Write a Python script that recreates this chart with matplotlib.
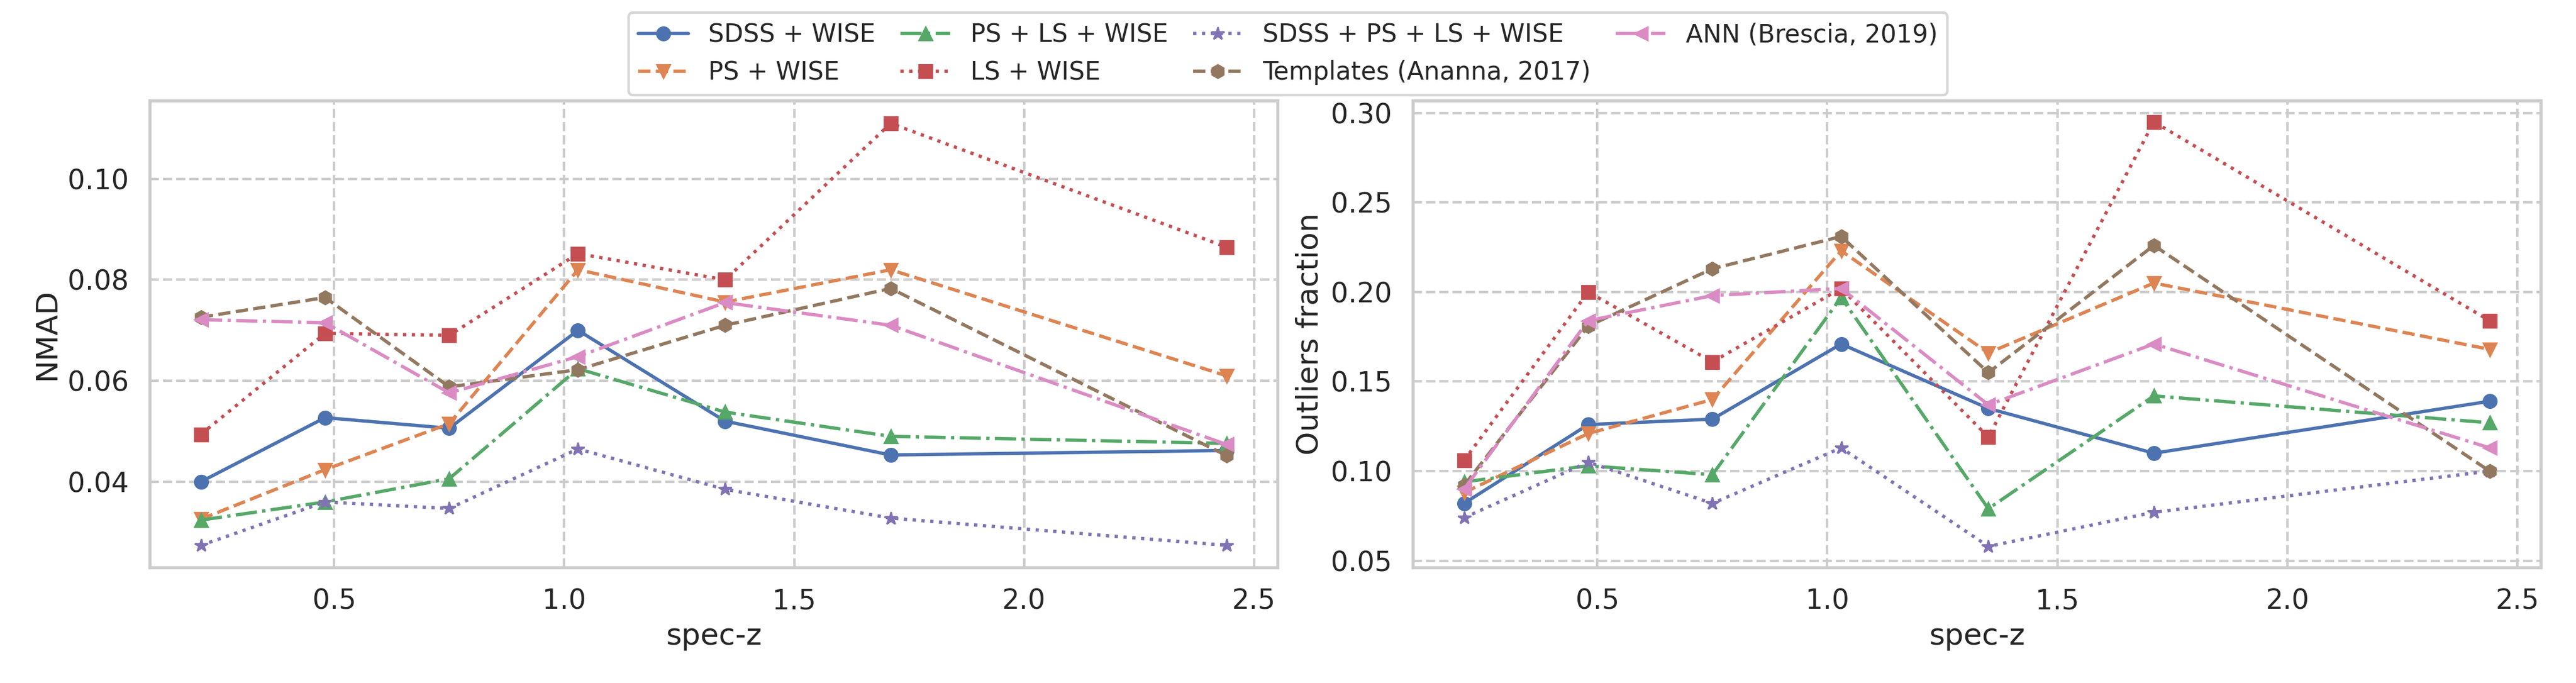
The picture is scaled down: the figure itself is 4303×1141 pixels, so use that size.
import matplotlib
matplotlib.use("Agg")
import matplotlib.pyplot as plt
import seaborn as sns

sns.set_theme(style="whitegrid", context="talk", rc={"grid.linestyle": "--"})

z = [0.21, 0.48, 0.75, 1.03, 1.35, 1.71, 2.44]
labels = ["SDSS + WISE", "PS + WISE", "PS + LS + WISE", "LS + WISE",
          "SDSS + PS + LS + WISE", "Templates (Ananna, 2017)", "ANN (Brescia, 2019)"]
nmad_sdss = [0.040, 0.0527, 0.0506, 0.070, 0.052, 0.0453, 0.0462]
nmad_ps = [0.0326, 0.0424, 0.0515, 0.082, 0.0756, 0.082, 0.061]
nmad_psls = [0.0324, 0.036, 0.0406, 0.0624, 0.0538, 0.049, 0.0476]
nmad_ls = [0.0494, 0.0694, 0.069, 0.0852, 0.080, 0.111, 0.0865]
nmad_all = [0.0274, 0.036, 0.0347, 0.0465, 0.0385, 0.0328, 0.0274]
nmad_tmpl = [0.0726, 0.0765, 0.0588, 0.0622, 0.071, 0.0783, 0.0452]
nmad_ann = [0.0721, 0.0715, 0.0576, 0.0648, 0.0755, 0.0710, 0.0474]
out_sdss = [0.082, 0.126, 0.129, 0.171, 0.135, 0.110, 0.139]
out_ps = [0.088, 0.121, 0.140, 0.223, 0.166, 0.205, 0.168]
out_psls = [0.094, 0.103, 0.098, 0.197, 0.079, 0.142, 0.127]
out_ls = [0.106, 0.200, 0.161, 0.202, 0.119, 0.295, 0.184]
out_all = [0.074, 0.105, 0.082, 0.113, 0.058, 0.077, 0.100]
out_tmpl = [0.092, 0.181, 0.213, 0.231, 0.155, 0.226, 0.100]
out_ann = [0.090, 0.184, 0.198, 0.202, 0.137, 0.171, 0.113]

styles = [("o", "-"), ("v", "--"), ("^", "-."), ("s", ":"), ("*", ":"), ("h", "--"), ("<", "-.")]
colors = sns.color_palette("deep")

fig, axes = plt.subplots(1, 2, figsize=(21.515, 5.705), dpi=200)
for ax, series, ylab in [(axes[0], [nmad_sdss, nmad_ps, nmad_psls, nmad_ls, nmad_all, nmad_tmpl, nmad_ann], "NMAD"),
                         (axes[1], [out_sdss, out_ps, out_psls, out_ls, out_all, out_tmpl, out_ann], "Outliers fraction")]:
    for i, (vals, lab) in enumerate(zip(series, labels)):
        m, ls = styles[i]
        ax.plot(z, vals, marker=m, linestyle=ls, color=colors[i], label=lab, markersize=8, linewidth=2)
    ax.set_xlabel("spec-z")
    ax.set_ylabel(ylab)
    ax.set_xticks([0.5, 1.0, 1.5, 2.0, 2.5])
axes[0].set_ylim(0.023, 0.1155)
axes[0].set_yticks([0.04, 0.06, 0.08, 0.10])
axes[1].set_yticks([0.05, 0.10, 0.15, 0.20, 0.25, 0.30])
h, l = axes[0].get_legend_handles_labels()
fig.legend(h, l, loc="upper center", ncol=4, fontsize=15, bbox_to_anchor=(0.5, 1.0),
           columnspacing=1.0, handlelength=2.0)
fig.tight_layout(rect=(0, 0, 1, 0.9), w_pad=0.5)
fig.savefig("out.png")
